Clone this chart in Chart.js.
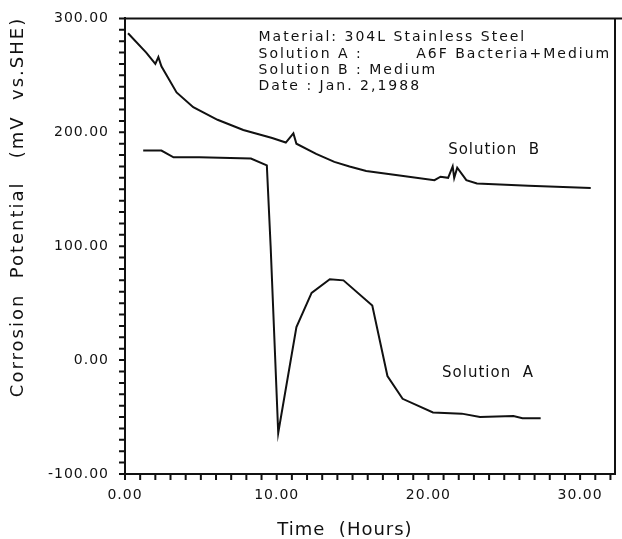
<!DOCTYPE html>
<html>
<head>
<meta charset="utf-8">
<script src="https://cdn.jsdelivr.net/npm/chart.js@4.4.1/dist/chart.umd.min.js"></script>
<style>
  body { margin: 0; background: #fff; }
</style>
</head>
<body>
<canvas id="myChart" width="622" height="539"></canvas>
<script>
// data
const timeA = [1.2, 2.4, 3.2, 4.9, 8.3, 9.35, 9.6, 10.1, 11.3, 12.3, 13.5, 14.4, 16.3, 17.3, 18.3, 20.3, 22.2, 23.4, 25.6, 26.2, 27.4];
const potentialA = [184, 184, 178, 178, 177, 171, 100, -64, 29, 59, 71, 70, 48, -14, -34, -46, -47, -50, -49, -51, -51];

const timeB = [0.2, 1.4, 2.0, 2.2, 2.4, 3.4, 4.5, 6.1, 7.8, 9.7, 10.6, 11.1, 11.3, 12.6, 13.8, 14.8, 15.9, 18.1, 20.4, 20.8, 21.3, 21.6, 21.7, 21.9, 22.5, 23.2, 26.6, 30.7];
const potentialB = [287, 270, 260, 266, 258, 235, 222, 211, 202, 195, 191, 199, 190, 181, 174, 170, 166, 162, 158, 161, 160, 170, 160, 169, 158, 155, 153, 151];

const xLabels = [0, 10, 20, 30];
const yLabels = [-100, 0, 100, 200, 300];
const xMinorStep = 1;
const yMinorStep = 10;

const infoLines = [
    'Material: 304L Stainless Steel',
    'Solution A :',
    'Solution B : Medium',
    'Date : Jan. 2,1988'
];
const infoExtra = 'A6F Bacteria+Medium';

function toPoints(xs, ys) {
    return xs.map(function(x, i) {
        return { x: x, y: ys[i] };
    });
}

const font = "'DejaVu Sans', sans-serif";

// texts, frame and the small tick marks
const annot = {
    id: 'annot',
    beforeDraw(chart) {
        chart.ctx.letterSpacing = '1px';
    },
    afterDraw(chart) {
        const ctx = chart.ctx;
        const a = chart.chartArea;
        const sx = chart.scales.x;
        const sy = chart.scales.y;
        ctx.save();
        ctx.strokeStyle = '#111';
        ctx.lineWidth = 2;
        ctx.beginPath();
        ctx.moveTo(a.left, a.top);
        ctx.lineTo(chart.width, a.top);
        ctx.moveTo(a.right, a.top);
        ctx.lineTo(a.right, a.bottom);
        ctx.stroke();

        ctx.lineWidth = 2;
        ctx.beginPath();
        for (let t = sx.min; t <= sx.max; t += xMinorStep) {
            const px = sx.getPixelForValue(t);
            ctx.moveTo(px, a.bottom);
            ctx.lineTo(px, a.bottom + 6);
        }
        for (let v = sy.min; v <= sy.max; v += yMinorStep) {
            const py = sy.getPixelForValue(v);
            ctx.moveTo(a.left, py);
            ctx.lineTo(a.left - 6, py);
        }
        ctx.stroke();

        ctx.fillStyle = '#111';
        ctx.textBaseline = 'middle';
        ctx.textAlign = 'left';

        ctx.font = '14px ' + font;
        ctx.letterSpacing = '2px';
        const lx = sx.getPixelForValue(8.8);
        const ly = [283, 268, 254, 240];
        infoLines.forEach(function(t, i) {
            ctx.fillText(t, lx, sy.getPixelForValue(ly[i]));
        });
        ctx.fillText(infoExtra, sx.getPixelForValue(19.2), sy.getPixelForValue(ly[1]));

        ctx.font = '15px ' + font;
        ctx.letterSpacing = '1px';
        ctx.fillText('Solution  B', sx.getPixelForValue(21.3), sy.getPixelForValue(184));
        ctx.fillText('Solution  A', sx.getPixelForValue(20.9), sy.getPixelForValue(-11));

        // axis titles
        ctx.font = '18px ' + font;
        ctx.textAlign = 'center';
        ctx.letterSpacing = '1px';
        ctx.fillText('Time  (Hours)', 345, 530);
        ctx.letterSpacing = '2px';
        ctx.translate(18, 207);
        ctx.rotate(-Math.PI / 2);
        ctx.fillText('Corrosion  Potential   (mV  vs.SHE)', 0, 0);
        ctx.restore();
    }
};

const data = {
    datasets: [{
        label: 'Solution A',
        data: toPoints(timeA, potentialA),
        borderColor: '#111',
        borderWidth: 2,
        pointRadius: 0,
        tension: 0
    }, {
        label: 'Solution B',
        data: toPoints(timeB, potentialB),
        borderColor: '#111',
        borderWidth: 2,
        pointRadius: 0,
        tension: 0
    }]
};

const config = {
    type: 'line',
    data,
    options: {
        responsive: false,
        animation: false,
        layout: { padding: { top: 13, right: 7, left: 0, bottom: 0 } },
        plugins: {
            legend: { display: false },
            tooltip: { enabled: false }
        },
        scales: {
            x: {
                type: 'linear',
                min: 0,
                max: 32.3,
                afterFit(scale) { scale.height = 65; },
                border: { color: '#111', width: 2 },
                grid: { drawOnChartArea: false, tickLength: 6, color: '#111' },
                ticks: {
                    stepSize: xMinorStep,
                    includeBounds: false,
                    autoSkip: false,
                    maxRotation: 0,
                    padding: 7,
                    color: '#111',
                    font: { family: font, size: 14 },
                    callback: function(v) {
                        return xLabels.includes(v) ? v.toFixed(2) : '';
                    }
                }
            },
            y: {
                min: -100,
                max: 300,
                afterFit(scale) { scale.width = 125; },
                border: { color: '#111', width: 2 },
                grid: { drawOnChartArea: false, tickLength: 6, color: '#111' },
                ticks: {
                    stepSize: yMinorStep,
                    autoSkip: false,
                    padding: 10,
                    color: '#111',
                    font: { family: font, size: 14 },
                    callback: function(v) {
                        return yLabels.includes(v) ? v.toFixed(2) : '';
                    }
                }
            }
        }
    },
    plugins: [annot]
};

const myChart = new Chart(
    document.getElementById('myChart'),
    config
);
</script>
</body>
</html>
